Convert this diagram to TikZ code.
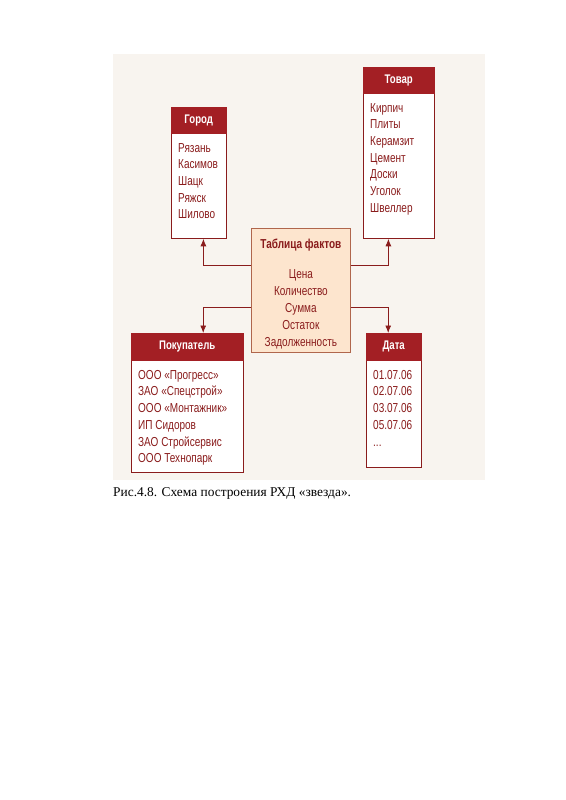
\documentclass[tikz,border=0pt]{standalone}
\usepackage{fontspec}
\setmainfont{Liberation Serif}
\newfontfamily\narrowfont[FakeStretch=0.77]{Liberation Sans}
\usetikzlibrary{positioning,arrows.meta}

\definecolor{panelbg}{HTML}{F8F4EF}
\definecolor{headred}{HTML}{A31F24}
\definecolor{textred}{HTML}{8A1C1C}
\definecolor{factfill}{HTML}{FDE5CE}
\definecolor{factline}{HTML}{B0664C}

\begin{document}
\begin{tikzpicture}[x=1pt,y=-1pt]
      \tikzstyle{head}=[rectangle, anchor=north west, fill=headred, draw=headred, text=white, inner sep=0pt, font=\narrowfont\bfseries\fontsize{12.5}{14}\selectfont]
      \tikzstyle{body}=[rectangle, anchor=north west, fill=white, draw=textred, thick, inner sep=0pt]
      \tikzstyle{items}=[anchor=north west, inner sep=0pt, align=left, text=textred, font=\narrowfont\fontsize{13}{16.7}\selectfont]
      \tikzstyle{fact}=[rectangle, anchor=north west, fill=factfill, draw=factline, thick, inner sep=0pt, align=center, text=textred, font=\narrowfont\fontsize{13}{16.9}\selectfont]
      \tikzstyle{connect}=[-{Latex[length=7.5pt,width=6pt]}, draw=textred, thick]

      \useasboundingbox (0,0) rectangle (565,800);
      \fill[panelbg] (113,54) rectangle (485,480);

      % Город
      \node[body, minimum width=55pt, minimum height=105pt] (gorodbody) at (171,133) {};
      \node[head, minimum width=55pt, minimum height=26pt] (gorodhead) at (171,107) {Город};
      \node[items] (gorodlist) [below right=10pt and 7pt of gorodbody.north west, anchor=north west]
        {Рязань\\Касимов\\Шацк\\Ряжск\\Шилово};

      % Товар
      \node[body, minimum width=71pt, minimum height=145pt] (tovarbody) at (363,93) {};
      \node[head, minimum width=71pt, minimum height=26pt] (tovarhead) at (363,67) {Товар};
      \node[items] (tovarlist) [below right=10pt and 7pt of tovarbody.north west, anchor=north west]
        {Кирпич\\Плиты\\Керамзит\\Цемент\\Доски\\Уголок\\Швеллер};

      % Таблица фактов
      \node[fact, minimum width=99pt, minimum height=124pt] (fact) at (251,228)
        {\rule{0pt}{17pt}\textbf{Таблица фактов}\\[13pt]Цена\\Количество\\Сумма\\Остаток\\Задолженность};

      % Покупатель
      \node[body, minimum width=112pt, minimum height=112pt] (pokupbody) at (131,360) {};
      \node[head, minimum width=112pt, minimum height=27pt] (pokuphead) at (131,333) {Покупатель};
      \node[items] (pokuplist) [below right=10pt and 7pt of pokupbody.north west, anchor=north west]
        {ООО «Прогресс»\\ЗАО «Спецстрой»\\ООО «Монтажник»\\ИП Сидоров\\ЗАО Стройсервис\\ООО Технопарк};

      % Дата
      \node[body, minimum width=55pt, minimum height=107pt] (databody) at (366,360) {};
      \node[head, minimum width=55pt, minimum height=27pt] (datahead) at (366,333) {Дата};
      \node[items] (datalist) [below right=10pt and 7pt of databody.north west, anchor=north west]
        {01.07.06\\02.07.06\\03.07.06\\05.07.06\\...};

      \draw[connect] ([yshift=25pt]fact.west) -| ([xshift=4.5pt]gorodbody.south);
      \draw[connect] ([yshift=25pt]fact.east) -| ([xshift=-10.5pt]tovarbody.south);
      \draw[connect] ([yshift=-17pt]fact.west) -| ([xshift=16pt]pokuphead.north);
      \draw[connect] ([yshift=-17pt]fact.east) -| ([xshift=-5.5pt]datahead.north);

      \node[anchor=west, inner sep=0pt, font=\fontsize{13.4}{15}\selectfont] (caption) at (113,493)
        {Рис.4.8. Схема построения РХД «звезда».};
\end{tikzpicture}
\end{document}
